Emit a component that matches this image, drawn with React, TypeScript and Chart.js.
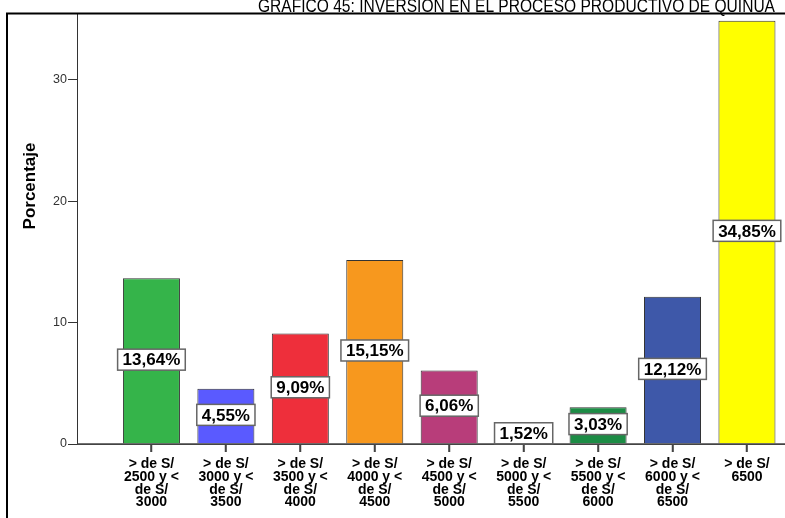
import React, { useEffect, useRef } from 'react';
import { Chart, registerables } from 'chart.js';

Chart.register(...registerables);

const TITLE = 'GRÁFICO 45: INVERSIÓN EN EL PROCESO PRODUCTIVO DE QUINUA';
const Y_TITLE = 'Porcentaje';

const categories: string[][] = [
  ['> de S/', '2500 y <', 'de S/', '3000'],
  ['> de S/', '3000 y <', 'de S/', '3500'],
  ['> de S/', '3500 y <', 'de S/', '4000'],
  ['> de S/', '4000 y <', 'de S/', '4500'],
  ['> de S/', '4500 y <', 'de S/', '5000'],
  ['> de S/', '5000 y <', 'de S/', '5500'],
  ['> de S/', '5500 y <', 'de S/', '6000'],
  ['> de S/', '6000 y <', 'de S/', '6500'],
  ['> de S/', '6500'],
];

const values: number[] = [13.64, 4.55, 9.09, 15.15, 6.06, 1.52, 3.03, 12.12, 34.85];

const barColors: string[] = [
  '#35b44a',
  '#5a5aff',
  '#ee2f3b',
  '#f7981e',
  '#b83d7a',
  '#d8d8d8',
  '#1c8c45',
  '#3e58a9',
  '#ffff00',
];

const yTicks: number[] = [0, 10, 20, 30];
const Y_MAX = 35.4;

const CANVAS_W = 840;
const CANVAS_H = 560;
const FONT = '"Liberation Sans", Arial, sans-serif';

export default function App() {
  const canvasRef = useRef<HTMLCanvasElement | null>(null);

  useEffect(() => {
    const canvas = canvasRef.current;
    if (!canvas) return;

    const labels = [[''], ...categories, ['']];
    const data = [null, ...values, null];
    const colors = ['rgba(0,0,0,0)', ...barColors, 'rgba(0,0,0,0)'];
    const lastIdx = labels.length - 1;

    const decorPlugin = {
      id: 'decor',
      beforeDraw(chart: any) {
        const ctx = chart.ctx;
        ctx.save();
        ctx.fillStyle = '#ffffff';
        ctx.fillRect(0, 0, chart.width, chart.height);
        ctx.restore();
      },
      afterDatasetsDraw(chart: any) {
        const ctx = chart.ctx;
        const area = chart.chartArea;
        const meta = chart.getDatasetMeta(0);
        const xScale = chart.scales.x;
        const yScale = chart.scales.y;
        ctx.save();
        // x axis line over the bar bottoms, and tick marks under each category
        ctx.strokeStyle = '#444444';
        ctx.lineWidth = 1.5;
        ctx.beginPath();
        ctx.moveTo(area.left, area.bottom);
        ctx.lineTo(area.right, area.bottom);
        ctx.stroke();
        ctx.lineWidth = 1.5;
        for (let i = 1; i < lastIdx; i++) {
          const px = Math.round(xScale.getPixelForTick(i));
          ctx.beginPath();
          ctx.moveTo(px, area.bottom);
          ctx.lineTo(px, area.bottom + 8);
          ctx.stroke();
        }

        ctx.font = `bold 17px ${FONT}`;
        meta.data.forEach((bar: any, i: number) => {
          const v = data[i];
          if (v == null) return;
          const text = (v as number).toFixed(2).replace('.', ',') + '%';
          const x = bar.x;
          const y = yScale.getPixelForValue((v as number) / 2) - 1.5;
          const tw = ctx.measureText(text).width;
          const w = tw + 10;
          const h = 21;
          ctx.fillStyle = '#ffffff';
          ctx.fillRect(x - w / 2, y - h / 2, w, h);
          ctx.strokeStyle = '#666666';
          ctx.lineWidth = 1.5;
          ctx.strokeRect(x - w / 2, y - h / 2, w, h);
          ctx.fillStyle = '#000000';
          ctx.textAlign = 'center';
          ctx.textBaseline = 'middle';
          ctx.fillText(text, x, y + 1);
        });
        ctx.restore();
      },
      afterDraw(chart: any) {
        const ctx = chart.ctx;
        ctx.save();
        // frame
        ctx.strokeStyle = '#000000';
        ctx.lineWidth = 2;
        ctx.beginPath();
        ctx.moveTo(7, chart.height);
        ctx.lineTo(7, 13.5);
        ctx.lineTo(chart.width, 13.5);
        ctx.stroke();
        // title (slightly condensed)
        ctx.fillStyle = '#000000';
        ctx.font = `17.5px ${FONT}`;
        ctx.textAlign = 'center';
        ctx.textBaseline = 'alphabetic';
        const tw = ctx.measureText(TITLE).width;
        const sx = 517 / tw;
        ctx.save();
        ctx.translate(516.5, 11.5);
        ctx.scale(sx, 1);
        ctx.fillText(TITLE, 0, 0);
        ctx.restore();
        // y axis title
        ctx.translate(30, 186);
        ctx.rotate(-Math.PI / 2);
        ctx.font = `bold 17px ${FONT}`;
        ctx.textAlign = 'center';
        ctx.textBaseline = 'middle';
        ctx.fillText(Y_TITLE, 0, 0);
        ctx.restore();
      },
    };

    const chart = new Chart(canvas, {
      type: 'bar',
      data: {
        labels,
        datasets: [
          {
            data,
            backgroundColor: colors,
            borderColor: '#333333',
            borderWidth: 1,
            barPercentage: 0.766,
            categoryPercentage: 1,
          },
        ],
      },
      options: {
        responsive: false,
        animation: false,
        devicePixelRatio: 1,
        layout: { padding: { top: 14, right: 18.6, left: 0, bottom: 0 } },
        plugins: {
          legend: { display: false },
          tooltip: { enabled: false },
          title: { display: false },
        },
        scales: {
          x: {
            type: 'category',
            offset: false,
            grid: {
              offset: false,
              drawOnChartArea: false,
              drawTicks: true,
              tickLength: 8,
              tickWidth: 1.5,
              tickColor: (ctx: any) =>
                ctx.index === 0 || ctx.index === lastIdx ? 'rgba(0,0,0,0)' : '#444444',
            },
            border: { color: '#444444', width: 1 },
            ticks: {
              autoSkip: false,
              maxRotation: 0,
              minRotation: 0,
              padding: 6,
              color: '#000000',
              font: { family: FONT, size: 14, weight: 'bold', lineHeight: '12.7px' },
            },
            afterFit: (s: any) => {
              s.height = CANVAS_H - 444;
            },
          },
          y: {
            type: 'linear',
            min: 0,
            max: Y_MAX,
            afterBuildTicks: (s: any) => {
              s.ticks = yTicks.map((v) => ({ value: v }));
            },
            grid: {
              drawOnChartArea: false,
              drawTicks: true,
              tickLength: 9,
              tickColor: '#333333',
            },
            border: { color: '#333333', width: 1 },
            ticks: {
              padding: 1,
              color: '#333333',
              font: { family: FONT, size: 12.5 },
            },
            afterFit: (s: any) => {
              s.width = 77;
            },
          },
        },
      },
      plugins: [decorPlugin],
    } as any);

    return () => {
      chart.destroy();
    };
  }, []);

  return (
    <div
      style={{
        position: 'fixed',
        left: 0,
        top: 0,
        width: 785,
        height: 518,
        overflow: 'hidden',
        background: '#ffffff',
      }}
    >
      <canvas
        ref={canvasRef}
        width={CANVAS_W}
        height={CANVAS_H}
        style={{ position: 'absolute', left: 0, top: 0, width: CANVAS_W, height: CANVAS_H }}
      />
    </div>
  );
}
